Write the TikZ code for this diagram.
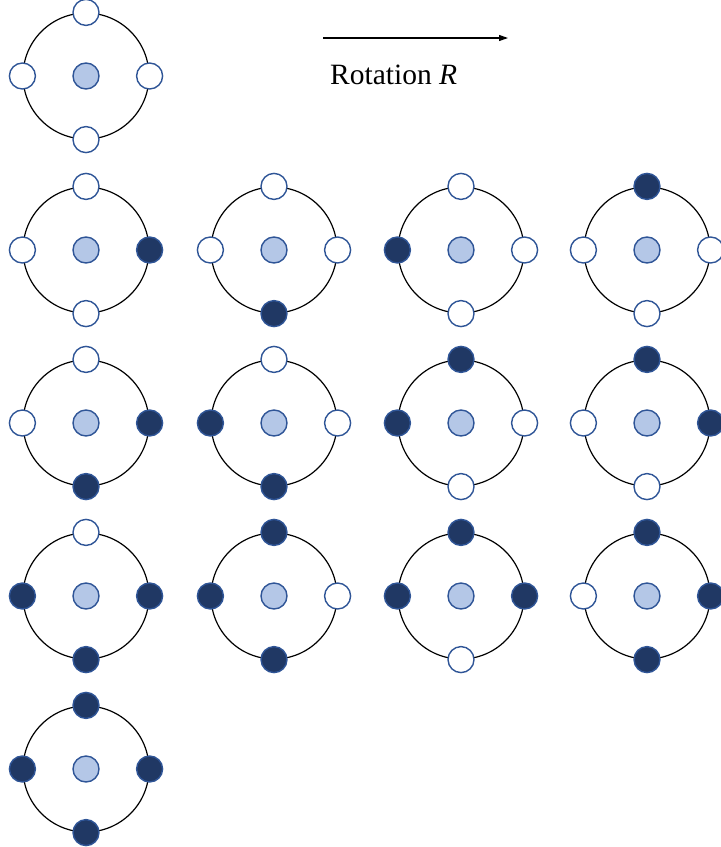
\documentclass[tikz,border=0pt]{standalone}
\usepackage{fontspec}
\setmainfont{Liberation Serif}
\usetikzlibrary{arrows.meta, positioning}

\definecolor{siteblue}{HTML}{2F5597}
\definecolor{navyfill}{HTML}{203864}
\definecolor{corefill}{HTML}{B4C7E7}

\begin{document}
\begin{tikzpicture}[
  x=1pt, y=-1pt,
  ring/.style={circle, draw=black, line width=1.2pt, minimum size=126pt, inner sep=0pt},
  site/.style={circle, draw=siteblue, line width=1.4pt, fill=white, minimum size=26pt, inner sep=0pt},
  full/.style={site, fill=navyfill},
  open/.style={site},
  core/.style={site, fill=corefill},
  arr/.style={-{Triangle[length=9pt, width=6pt]}, line width=1.1pt}
]
  \useasboundingbox (0,0) rectangle (721,847);

  % molecules: name / x / y / top / right / bottom / left
  \foreach \n/\x/\y/\t/\r/\b/\l in {
      a/86/76/open/open/open/open,
      b1/86/250/open/full/open/open,
      b2/274/250/open/open/full/open,
      b3/461/250/open/open/open/full,
      b4/647/250/full/open/open/open,
      c1/86/423/open/full/full/open,
      c2/274/423/open/open/full/full,
      c3/461/423/full/open/open/full,
      c4/647/423/full/full/open/open,
      d1/86/596/open/full/full/full,
      d2/274/596/full/open/full/full,
      d3/461/596/full/full/open/full,
      d4/647/596/full/full/full/open,
      e1/86/769/full/full/full/full}{
    \node[ring] (\n) at (\x,\y) {};
    \node[core] (\n-c) at (\n.center) {};
    \node[\t] (\n-t) at (\n.north) {};
    \node[\r] (\n-r) at (\n.east) {};
    \node[\b] (\n-b) at (\n.south) {};
    \node[\l] (\n-l) at (\n.west) {};
  }

  % rotation arrow
  \coordinate (rs) at (323,38);
  \coordinate (re) at (508,38);
  \draw[arr] (rs) -- (re);
  \node[font=\fontsize{29.5}{34}\selectfont, anchor=base west, inner sep=0pt] (rot) at (330,84) {Rotation \textit{R}};
\end{tikzpicture}
\end{document}
